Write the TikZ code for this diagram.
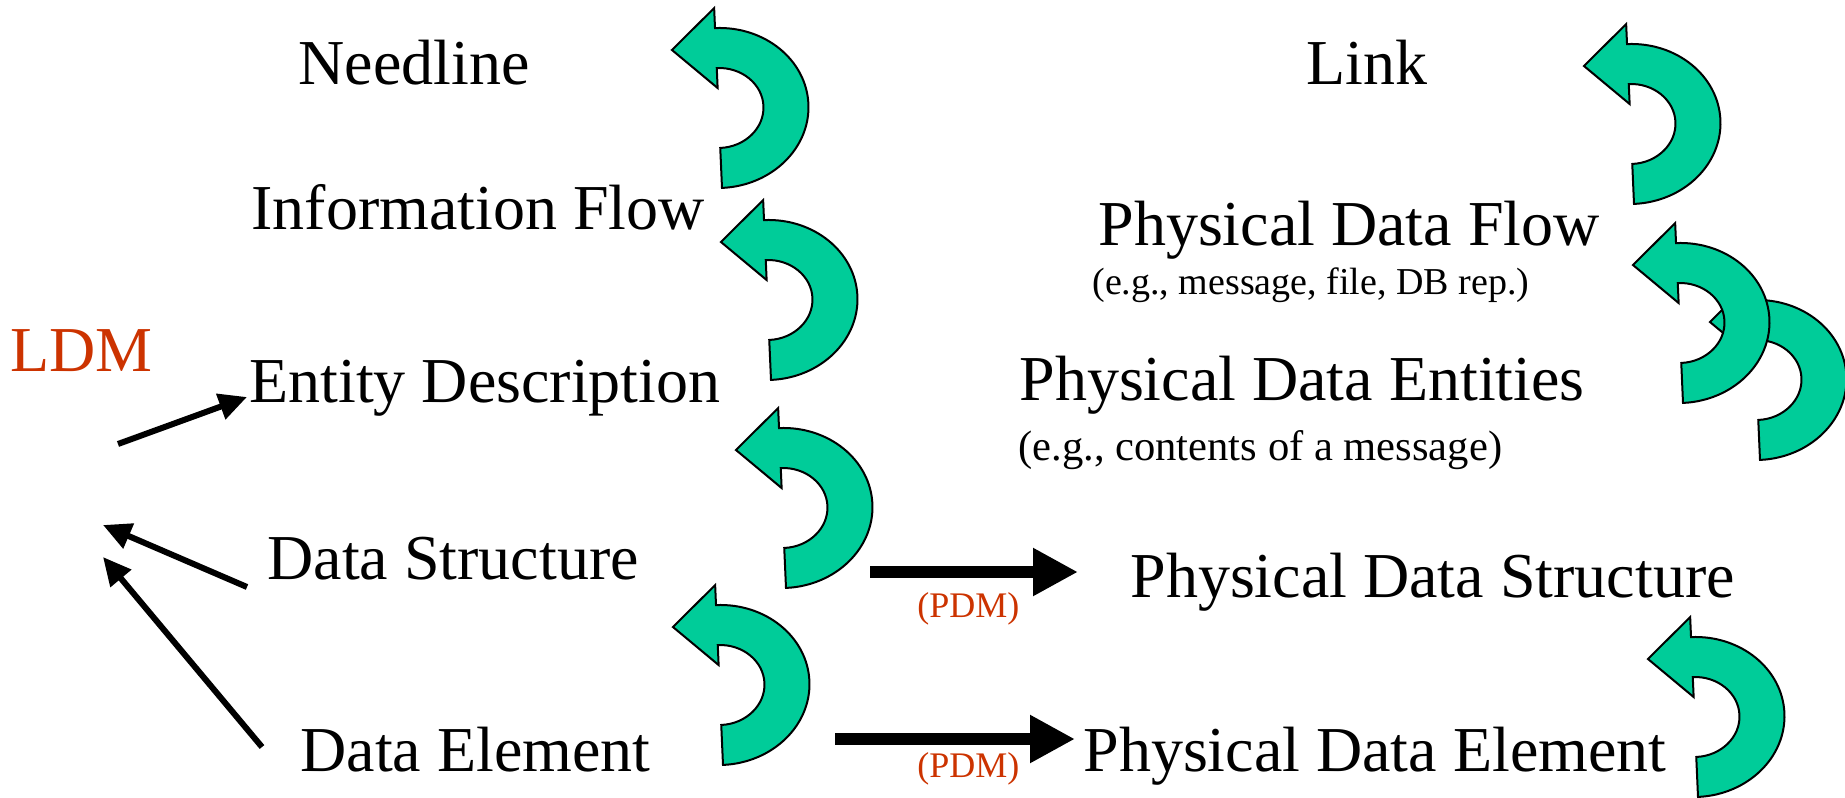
\documentclass[tikz,border=0pt]{standalone}
\usepackage{fontspec}
\setmainfont{Liberation Serif}
\usetikzlibrary{arrows.meta}
\definecolor{uturn}{RGB}{0,204,153}
\definecolor{ldmred}{RGB}{204,51,0}
\tikzset{
 big/.style={anchor=base west, inner sep=0pt, font=\fontsize{32}{38}\selectfont},
 small/.style={anchor=base west, inner sep=0pt, font=\fontsize{19}{23}\selectfont},
 medium/.style={anchor=base west, inner sep=0pt, font=\fontsize{21.3}{25}\selectfont},
 pdm/.style={anchor=base west, inner sep=0pt, text=ldmred, font=\fontsize{18}{22}\selectfont},
 thin arrow/.style={line width=3pt, -{Triangle[length=14pt,width=13pt]}},
 thick arrow/.style={line width=6pt, -{Triangle[length=22.5pt,width=22.5pt]}},
 uturnarrow/.style={fill=uturn, draw=black, line width=1pt, line join=miter},
}
\newcommand{\greenuturn}[2]{%
 \draw[uturnarrow, shift={(#1,-#2)}, rotate=2.5] (0,-80) arc[start angle=-90,end angle=90,x radius=90,y radius=80] -- (0,100) -- (-44,60) -- (0,20) -- (0,40) arc[start angle=90,end angle=-90,x radius=45,y radius=40] -- cycle;}
\begin{document}
\begin{tikzpicture}[x=0.5pt,y=0.5pt]
\useasboundingbox (0,0) rectangle (1845,-797);
% texts
\node[big] (needline) at (298,-85) {Needline};
\node[big] (infoflow) at (251,-229) {Information Flow};
\node[big] (entity) at (249,-402) {Entity Description};
\node[big] (dstruct) at (267,-579) {Data Structure};
\node[big] (delem) at (300,-771) {Data Element};
\node[big, text=ldmred] (ldm) at (10,-371) {LDM};
\node[big] (link) at (1306,-85) {Link};
\node[big] (pdflow) at (1098,-245) {Physical Data Flow};
\node[small] (eg1) at (1092,-294) {(e.g., message, file, DB rep.)};
\node[big] (pdent) at (1019,-400) {Physical Data Entities};
\node[medium] (eg2) at (1018,-460) {(e.g., contents of a message)};
\node[big] (pdstruct) at (1130,-597) {Physical Data Structure};
\node[big] (pdelem) at (1083,-771) {Physical Data Element};
\node[pdm] (pdm1) at (917,-617) {(PDM)};
\node[pdm] (pdm2) at (917,-777) {(PDM)};
% green u-turn arrows
\greenuturn{718.5}{108}
\greenuturn{767.5}{300}
\greenuturn{782.5}{508}
\greenuturn{719.5}{685}
\greenuturn{1630.5}{124}
\greenuturn{1756.5}{380}
\greenuturn{1679.5}{323}
\greenuturn{1694.5}{717}
% black arrows
\coordinate (a1s) at (118,-444); \coordinate (a1e) at (247,-397);
\coordinate (a2s) at (247,-587); \coordinate (a2e) at (103,-525);
\coordinate (a3s) at (262,-747); \coordinate (a3e) at (103,-557);
\coordinate (p1s) at (870,-572); \coordinate (p1e) at (1078,-572);
\coordinate (p2s) at (835,-739); \coordinate (p2e) at (1075,-739);
\draw[thin arrow] (a1s) -- (a1e);
\draw[thin arrow] (a2s) -- (a2e);
\draw[thin arrow] (a3s) -- (a3e);
\draw[thick arrow] (p1s) -- (p1e);
\draw[thick arrow] (p2s) -- (p2e);
\end{tikzpicture}
\end{document}
